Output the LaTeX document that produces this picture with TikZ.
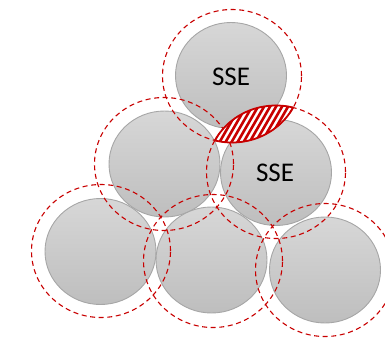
\documentclass[tikz,border=0pt]{standalone}
\usepackage{fontspec}
\setmainfont{Carlito}
\usetikzlibrary{calc}
\definecolor{discTop}{RGB}{215,215,215}
\definecolor{discBot}{RGB}{190,190,190}
\definecolor{discEdge}{RGB}{166,166,166}
\definecolor{zoneRed}{RGB}{200,0,0}
\begin{document}
\begin{tikzpicture}[x=1pt,y=-1pt,
  disc/.style={draw=discEdge, line width=0.9pt, top color=discTop, bottom color=discBot},
  reach/.style={draw=zoneRed, dash pattern=on 5pt off 3.6pt, line width=1.1pt},
  ssetext/.style={font=\fontsize{27}{30}\selectfont, text=black, inner sep=0pt}]
\useasboundingbox (0,0) rectangle (385,348);

% disc centres
\coordinate (a) at (231,75.5);
\coordinate (b) at (164.5,164);
\coordinate (c) at (276,172.5);
\coordinate (d) at (100.5,251.5);
\coordinate (e) at (211.5,260);
\coordinate (f) at (325,270);

% coverage centres
\coordinate (ar) at (232,76);
\coordinate (br) at (164,164);
\coordinate (cr) at (276,172);
\coordinate (dr) at (101,251);
\coordinate (er) at (213,261);
\coordinate (fr) at (325,270);

% grey discs
\foreach \p in {a,b,c,d,e,f}
  \path[disc] (\p) ellipse [x radius=55.5pt, y radius=53pt];

% dashed coverage rings
\foreach \p in {ar,br,cr,dr,er,fr}
  \draw[reach] (\p) ellipse [x radius=69.5pt, y radius=66.5pt];

% hatched overlap of the two SSE rings
\begin{scope}
  \clip (ar) ellipse [x radius=69.5pt, y radius=66.5pt];
  \clip (cr) ellipse [x radius=69.5pt, y radius=66.5pt];
  \fill[white] (200,90) rectangle (310,160);
  \foreach \k in {-14,...,14}
    \draw[zoneRed, line width=2.6pt] (254+\k*6-22,124+38) -- (254+\k*6+22,124-38);
\end{scope}
\begin{scope}
  \clip (ar) ellipse [x radius=69.5pt, y radius=66.5pt];
  \draw[zoneRed, line width=1.8pt] (cr) ellipse [x radius=69.5pt, y radius=66.5pt];
\end{scope}
\begin{scope}
  \clip (cr) ellipse [x radius=69.5pt, y radius=66.5pt];
  \draw[zoneRed, line width=1.8pt] (ar) ellipse [x radius=69.5pt, y radius=66.5pt];
\end{scope}

% labels
\node[ssetext] (ssetop) at (231,77) {SSE};
\node[ssetext] (sseright) at (275,173) {SSE};
\end{tikzpicture}
\end{document}
